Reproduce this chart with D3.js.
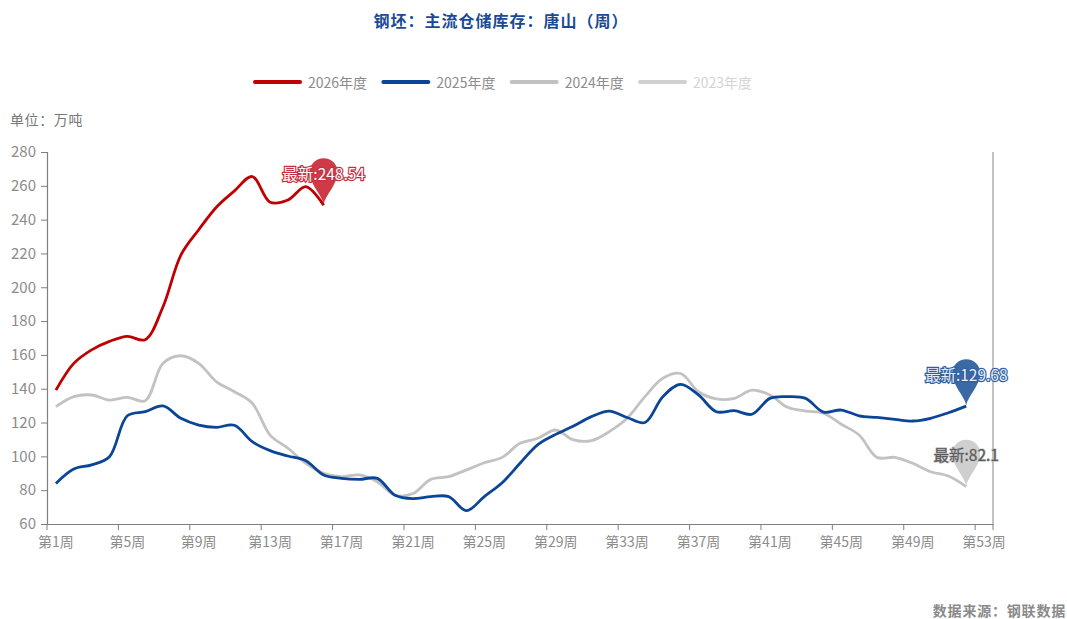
<!DOCTYPE html>
<html><head><meta charset="utf-8">
<script src="https://cdn.jsdelivr.net/npm/d3@7/dist/d3.min.js"></script>
<style>html,body{margin:0;padding:0;background:#fff}svg{display:block}
text{font-family:"Liberation Sans Narrow","Noto Sans CJK SC",sans-serif}</style></head>
<body><svg id="c" width="1067" height="619"></svg>
<script>
const weeks = d3.range(1,54).map(d=>`第${d}周`);
const tickWeeks = [1,5,9,13,17,21,25,29,33,37,41,45,49,53];
const yTicks = d3.range(60,281,20);
const y2026 = [139.2,155,163,168,171,169,188.5,219,234,247.5,257,265.5,250.3,251.6,259.5,248.54];
const y2025 = [84,92.5,95,99.8,124,126.4,129.8,122.5,118.5,117.2,118.4,108.7,103.4,100.2,97.4,89,87,86.4,87,77,75,76.2,76.2,67.9,76.2,84.4,95.9,107,113,118,123.5,126.8,123,120,135.3,142.6,136.3,126.4,127,124.9,134.3,135.3,134.3,126.2,127.4,124,123,121.9,120.9,122.5,125.8,129.68];
const y2024 = [129.4,135.3,136.3,133.3,134.9,132.9,155,159.5,155,144,138.2,131.4,112.6,104.8,95.9,90,88,89,85,77,78,86.4,88,92,96.2,99.4,107.7,110.7,115.6,109.7,109.3,114.6,122.5,135.3,146.2,149,138.2,134,134.3,139.2,136.3,129,126.8,125.5,119,112.6,99.4,99.4,95.9,90.9,88.4,82.1];
const y2023 = [];
const seriesNames = ["2026年度","2025年度","2024年度","2023年度"];
const seriesValues = [y2026,y2025,y2024,y2023];
const seriesColors = ["#c00000","#0b4596","#c2c2c2","#d0d0d0"];
const legendTextColors = ["#8c8c8c","#8c8c8c","#8c8c8c","#d4d4d4"];
const latestLabels = ["最新:248.54","最新:129.68","最新:82.1",null];
const titleText = "钢坯：主流仓储库存：唐山（周）";
const unitText = "单位：万吨";
const sourceText = "数据来源：钢联数据";

const svg = d3.select("#c");
const x = d3.scaleBand().domain(weeks).range([47,993]);
const y = d3.scaleLinear().domain([60,280]).range([524,152]);
const cx = i => x(weeks[i]) + x.bandwidth()/2;
const axisColor = "#7f7f7f", labelColor = "#8c8c8c";

svg.append("text").attr("x",501).attr("y",27).attr("text-anchor","middle")
  .attr("fill","#1a4a94").attr("font-size",16).attr("font-weight",700)
  .attr("letter-spacing",1).style("font-family","'Noto Sans CJK SC'").text(titleText);
svg.append("text").attr("x",10).attr("y",125).attr("fill","#777")
  .attr("font-size",14).attr("letter-spacing",0.6).style("font-family","'Noto Sans CJK SC'").text(unitText);
svg.append("text").attr("x",1066).attr("y",616).attr("text-anchor","end").attr("fill","#8a8a8a")
  .attr("font-size",14).attr("font-weight",700).attr("letter-spacing",0.8).style("font-family","'Noto Sans CJK SC'").text(sourceText);

// legend
const legendX = d3.scalePoint().domain(seriesNames).range([253,638]);
const lg = svg.append("g").selectAll("g").data(seriesNames).join("g")
  .attr("transform",d=>`translate(${legendX(d)},82)`);
lg.append("line").attr("x1",2).attr("x2",47).attr("stroke-width",4).attr("stroke-linecap","round")
  .attr("stroke",(d,i)=>seriesColors[i]);
lg.append("text").attr("x",55).attr("y",5.5).attr("font-size",14)
  .attr("fill",(d,i)=>legendTextColors[i]).text(d=>d);

// axes
const gy = svg.append("g").attr("transform","translate(47,0)")
  .call(d3.axisLeft(y).tickValues(yTicks).tickSize(6).tickPadding(5));
gy.selectAll("text").attr("font-size",15).attr("fill",labelColor);
const gx = svg.append("g").attr("transform","translate(0,524)")
  .call(d3.axisBottom(x).tickValues(tickWeeks.map(d=>weeks[d-1])).tickSize(0).tickPadding(13));
gx.selectAll("text").attr("font-size",14).attr("fill",labelColor);
gx.selectAll(".tick").append("line").attr("stroke",axisColor)
  .attr("x1",-x.bandwidth()/2).attr("x2",-x.bandwidth()/2).attr("y2",6);
gx.append("line").attr("stroke",axisColor).attr("x1",x.range()[1]).attr("x2",x.range()[1]).attr("y2",6);
svg.selectAll(".domain").attr("stroke",axisColor).attr("stroke-width",1.2);
gy.selectAll(".tick line").attr("stroke",axisColor);
svg.append("line").attr("x1",993).attr("x2",993).attr("y1",y(280)).attr("y2",y(60)).attr("stroke","#9a9a9a").attr("stroke-width",1.2);

const pinLayer = svg.append("g");

// lines (draw oldest first so newest are on top)
const line = d3.line().x((d,i)=>cx(i)).y(d=>y(d)).curve(d3.curveCatmullRom.alpha(0.5));
[3,2,1,0].forEach(k=>{
  if(!seriesValues[k].length) return;
  svg.append("path").datum(seriesValues[k]).attr("d",line).attr("fill","none")
    .attr("stroke",seriesColors[k]).attr("stroke-width",2.8).attr("stroke-linejoin","round");
});

// latest-value pins
const R = 14, H = 47, T = 1;
const pin = `M0,${-T} C-1.5,${-T-9} ${-R},${-H+26} ${-R},${-H+14} A${R},${R} 0 1 1 ${R},${-H+14} C${R},${-H+26} 1.5,${-T-9} 0,${-T}Z`;
const pinFills = ["#c91f2e","#1f5599","#c8c8c8"];
const labelFills = ["#fff","#e8eef6","#5a5a5a"];
const labelStrokes = ["#c73040","#2f5f9f","#b5b5b5"];
[0,1,2].forEach(k=>{
  const vals = seriesValues[k], i = vals.length-1;
  const px = cx(i), py = y(vals[i]);
  pinLayer.append("path").attr("d",pin).attr("transform",`translate(${px},${py})`)
    .attr("fill",pinFills[k]).attr("fill-opacity",0.88);
  svg.append("text").attr("x",px).attr("y",py-H+16+5.5).attr("text-anchor","middle")
    .attr("font-size",15.5).style("font-family","'Noto Sans CJK SC','Liberation Sans'")
    .style("paint-order","stroke").attr("fill",labelFills[k]).attr("stroke",labelStrokes[k])
    .attr("stroke-width",k===2?1.2:2.4).text(latestLabels[k]);
});
</script></body></html>
